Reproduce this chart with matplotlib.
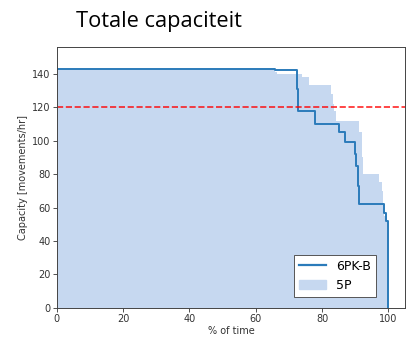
import matplotlib
matplotlib.use("Agg")
import matplotlib.pyplot as plt
import matplotlib.patches as mpatches
from matplotlib.lines import Line2D

# 6PK-B capacity duration curve (step, post)
pk_x = [0, 65.7, 72.3, 72.6, 77.8, 85.2, 86.8, 89.8, 90.3, 90.7, 91.1, 98.8, 99.3, 99.8, 100]
pk_y = [143, 142, 131, 118, 110, 105, 99, 92, 85, 73, 62, 57, 52, 52, 0]

# 5P capacity duration curve (filled)
p5_x = [0, 65.7, 66.3, 74.0, 76.2, 82.8, 83.2, 83.5, 84.2, 91.3, 92.0, 92.3, 97.3, 98.0, 98.5, 98.8, 99.5, 100, 100]
p5_y = [143, 141, 140, 138, 133, 128, 122, 118, 112, 105, 90, 80, 75, 70, 63, 55, 45, 45, 0]

threshold = 120

fig = plt.figure(figsize=(4.09, 3.38), dpi=100)
ax = fig.add_axes([0.139, 0.089, 0.851, 0.772])

ax.fill_between(p5_x, p5_y, step="post", color="#c6d8f0", linewidth=0)
ax.step(pk_x, pk_y, where="post", color="#2b7bba", linewidth=1.4)
ax.axhline(threshold, color="red", linestyle="--", linewidth=1.2, alpha=0.85)

ax.set_xlim(0, 105)
ax.set_ylim(0, 156)
ax.set_xticks([0, 20, 40, 60, 80, 100])
ax.set_yticks([0, 20, 40, 60, 80, 100, 120, 140])
ax.tick_params(labelsize=7, length=3, width=0.6, pad=1.5, colors="#333333")
for s in ax.spines.values():
    s.set_linewidth(0.7)
    s.set_color("#444444")
ax.set_xlabel("% of time", fontsize=7, color="#333333", labelpad=1)
ax.set_ylabel("Capacity [movements/hr]", fontsize=7, color="#333333", labelpad=3)

handles = [Line2D([0], [0], color="#2b7bba", linewidth=1.6),
           mpatches.Patch(color="#c6d8f0")]
leg = ax.legend(handles, ["6PK-B", "5P"], loc="lower right", fontsize=9,
                fancybox=False, edgecolor="#555555", framealpha=1,
                bbox_to_anchor=(0.917, 0.042), borderaxespad=0, handlelength=2.2)
leg.get_frame().set_linewidth(0.7)

fig.text(0.187, 0.935, "Totale capaciteit", fontsize=15.7, family="Open Sans",
         ha="left", va="center", color="black")

fig.savefig("out.png", dpi=100)
